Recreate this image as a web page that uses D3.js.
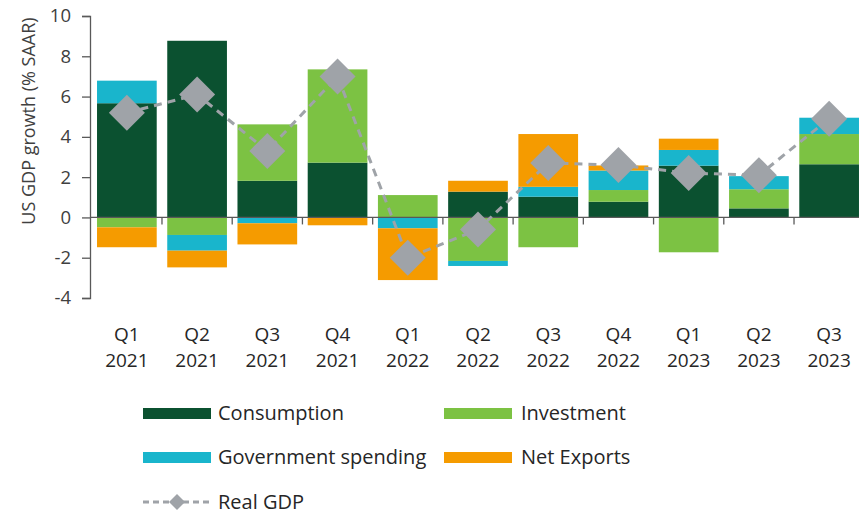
<!DOCTYPE html>
<html>
<head>
<meta charset="utf-8">
<script src="https://cdn.jsdelivr.net/npm/d3@7"></script>
<style>
  html, body { margin: 0; padding: 0; background: #ffffff; }
  svg { display: block; font-family: "Open Sans", "Noto Sans", sans-serif; }
</style>
</head>
<body>
<svg id="chart" width="859" height="513"></svg>
<script>
const quarters = ["Q1", "Q2", "Q3", "Q4", "Q1", "Q2", "Q3", "Q4", "Q1", "Q2", "Q3"];
const years = ["2021", "2021", "2021", "2021", "2022", "2022", "2022", "2022", "2023", "2023", "2023"];
const consumption = [5.67, 8.77, 1.82, 2.72, 0, 1.28, 1.03, 0.78, 2.57, 0.45, 2.64];
const investment = [-0.49, -0.87, 2.80, 4.63, 1.11, -2.16, -1.48, 0.58, -1.73, 0.95, 1.50];
const government = [1.12, -0.78, -0.29, 0, -0.54, -0.25, 0.49, 0.97, 0.78, 0.65, 0.81];
const netExports = [-0.99, -0.83, -1.05, -0.39, -2.57, 0.54, 2.62, 0.25, 0.56, 0, 0];
const realGDP = [5.2, 6.1, 3.3, 7.0, -2.0, -0.6, 2.7, 2.6, 2.2, 2.1, 4.9];
const yTicks = [-4, -2, 0, 2, 4, 6, 8, 10];

const seriesNames = ["Consumption", "Investment", "Government spending", "Net Exports"];
const seriesKeys = ["cons", "inv", "gov", "nx"];
const seriesColors = ["#0b5130", "#7cc243", "#19b5cc", "#f59b00"];
const gdpColor = "#9fa3a8";

const labels = quarters.map((q, i) => q + " " + years[i]);
const rows = labels.map((l, i) => ({
  label: l, cons: consumption[i], inv: investment[i], gov: government[i], nx: netExports[i]
}));

const svg = d3.select("#chart");
const x = d3.scaleBand().domain(labels).range([90, 866]).paddingInner(0.15).paddingOuter(0.1);
const y = d3.scaleLinear().domain([-4, 10]).range([298, 16]);

const stack = d3.stack().keys(seriesKeys).offset(d3.stackOffsetDiverging);
const stacked = stack(rows);

svg.append("g").selectAll("g").data(stacked).join("g")
  .attr("fill", (d, i) => seriesColors[i])
  .selectAll("rect").data(d => d).join("rect")
  .attr("x", d => x(d.data.label))
  .attr("width", x.bandwidth())
  .attr("y", d => y(Math.max(d[0], d[1])))
  .attr("height", d => Math.abs(y(d[0]) - y(d[1])));

// Y axis
const yAxis = d3.axisLeft(y).tickValues(yTicks).tickSize(8).tickPadding(11).tickFormat(d3.format("d"));
const gy = svg.append("g").attr("transform", "translate(90,0)").call(yAxis);
gy.select(".domain").attr("stroke", "#595959").attr("stroke-width", 1.3);
gy.selectAll(".tick line").attr("stroke", "#595959").attr("stroke-width", 1.3);
gy.selectAll(".tick text").attr("fill", "#404040").style("font-size", "18.5px").style("font-family", "'Open Sans', sans-serif");
gy.selectAll(".tick text").text(d => String(d));

// X axis baseline at zero
const pad = x.step() * x.paddingInner() / 2;
svg.append("line")
  .attr("x1", 90).attr("x2", 866)
  .attr("y1", y(0)).attr("y2", y(0))
  .attr("stroke", "#595959").attr("stroke-width", 1.3);
svg.append("g").selectAll("line").data(labels.slice(1)).join("line")
  .attr("x1", d => x(d) - pad).attr("x2", d => x(d) - pad)
  .attr("y1", y(0)).attr("y2", y(0) + 7)
  .attr("stroke", "#595959").attr("stroke-width", 1.3);

// X labels
const xl = svg.append("g").attr("fill", "#262626").style("font-size", "19px").attr("text-anchor", "middle");
xl.selectAll("text.q").data(labels).join("text").attr("class", "q")
  .attr("x", d => x(d) + x.bandwidth() / 2).attr("y", 341)
  .text((d, i) => quarters[i]);
xl.selectAll("text.yr").data(labels).join("text").attr("class", "yr")
  .attr("x", d => x(d) + x.bandwidth() / 2).attr("y", 367)
  .text((d, i) => years[i]);

// Y title
svg.append("text")
  .attr("transform", "translate(35,121) rotate(-90)")
  .attr("text-anchor", "middle")
  .attr("fill", "#404040")
  .style("font-size", "18px")
  .text("US GDP growth (% SAAR)");

// Real GDP line
const cx = i => x(labels[i]) + x.bandwidth() / 2;
const line = d3.line().x((d, i) => cx(i)).y(d => y(d));
svg.append("path").datum(realGDP)
  .attr("d", line)
  .attr("fill", "none")
  .attr("stroke", gdpColor)
  .attr("stroke-width", 3)
  .attr("stroke-dasharray", "8,6");
const dsz = 18;
svg.append("g").selectAll("path").data(realGDP).join("path")
  .attr("transform", (d, i) => `translate(${cx(i)},${y(d)})`)
  .attr("d", `M0,${-dsz}L${dsz},0L0,${dsz}L${-dsz},0Z`)
  .attr("fill", gdpColor);

// Legend
const legendItems = [
  { name: seriesNames[0], color: seriesColors[0], sx: 143, tx: 218, cy: 413.5 },
  { name: seriesNames[1], color: seriesColors[1], sx: 444, tx: 521, cy: 413.5 },
  { name: seriesNames[2], color: seriesColors[2], sx: 143, tx: 218, cy: 457.5 },
  { name: seriesNames[3], color: seriesColors[3], sx: 444, tx: 521, cy: 457.5 }
];
const lg = svg.append("g");
legendItems.forEach(it => {
  lg.append("rect").attr("x", it.sx).attr("y", it.cy - 5.5).attr("width", 68).attr("height", 11).attr("fill", it.color);
  lg.append("text").attr("x", it.tx).attr("y", it.cy + 6).attr("fill", "#262626").style("font-size", "20px").text(it.name);
});
lg.append("line").attr("x1", 143).attr("x2", 211).attr("y1", 502).attr("y2", 502)
  .attr("stroke", gdpColor).attr("stroke-width", 3).attr("stroke-dasharray", "6,4");
lg.append("path").attr("transform", "translate(177,502)").attr("d", "M0,-8L8,0L0,8L-8,0Z").attr("fill", gdpColor);
lg.append("text").attr("x", 218).attr("y", 508.5).attr("fill", "#262626").style("font-size", "20px").text("Real GDP");
</script>
</body>
</html>
